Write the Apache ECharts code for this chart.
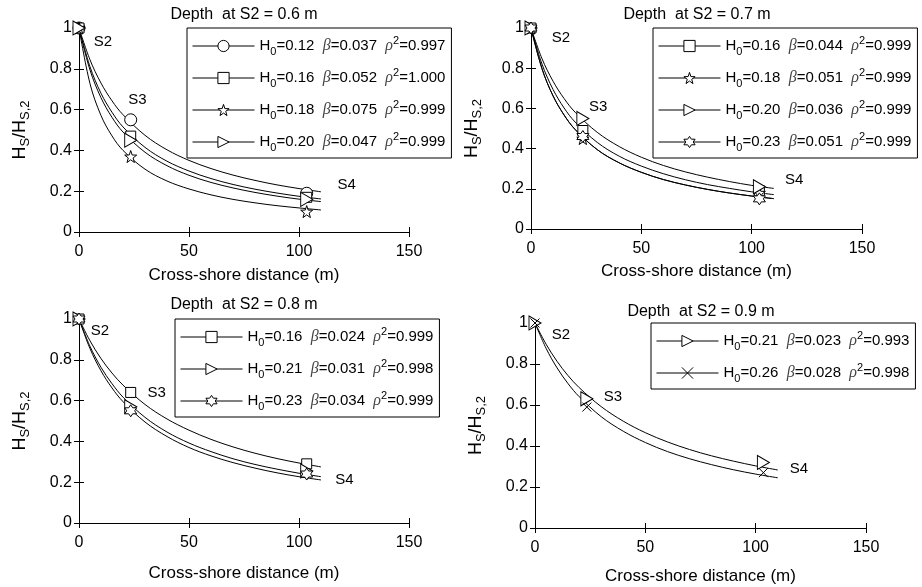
<!DOCTYPE html>
<html>
<head>
<meta charset="utf-8">
<script src="https://cdn.jsdelivr.net/npm/echarts@6/dist/echarts.min.js"></script>
<style>
html, body { margin: 0; padding: 0; background: #fff; }
#chart { width: 922px; height: 587px; }
</style>
</head>
<body>
<div id="chart"></div>
<script>
// ---- data ----
var depthLabels = ['0.6', '0.7', '0.8', '0.9'];
var stationX = [0, 23.5, 103.5];
var stationNames = ['S2', 'S3', 'S4'];
var curveX = [0, 5, 10, 15, 20, 30, 40, 50, 60, 70, 80, 90, 100, 110];

// panel 1 : depth 0.6 m
var p1H0 = ['0.12', '0.16', '0.18', '0.20'];
var p1Beta = ['0.037', '0.052', '0.075', '0.047'];
var p1Rho = ['0.997', '1.000', '0.999', '0.999'];
var p1Symbols = ['circle', 'square', 'star', 'tri'];
var p1Points = [[1, 0.55, 0.19], [1, 0.47, 0.17], [1, 0.37, 0.10], [1, 0.45, 0.16]];
var p1Curves = [
  [1, 0.844, 0.730, 0.643, 0.575, 0.474, 0.403, 0.351, 0.311, 0.279, 0.253, 0.231, 0.213, 0.197],
  [1, 0.794, 0.658, 0.562, 0.490, 0.391, 0.325, 0.278, 0.243, 0.216, 0.194, 0.176, 0.161, 0.149],
  [1, 0.727, 0.571, 0.471, 0.400, 0.308, 0.250, 0.211, 0.182, 0.160, 0.143, 0.129, 0.118, 0.108],
  [1, 0.810, 0.680, 0.587, 0.515, 0.415, 0.347, 0.299, 0.262, 0.233, 0.210, 0.191, 0.175, 0.162]
];
var p1Stations = [[10.9, 0.93], [26.5, 0.65], [121.7, 0.23]];

// panel 2 : depth 0.7 m
var p2H0 = ['0.16', '0.18', '0.20', '0.23'];
var p2Beta = ['0.044', '0.051', '0.036', '0.051'];
var p2Rho = ['0.999', '0.999', '0.999', '0.999'];
var p2Symbols = ['square', 'star', 'tri', 'hex'];
var p2Points = [[1, 0.49, 0.19], [1, 0.45, 0.18], [1, 0.55, 0.21], [1, 0.46, 0.15]];
var p2Curves = [
  [1, 0.820, 0.694, 0.602, 0.532, 0.431, 0.362, 0.313, 0.275, 0.245, 0.221, 0.202, 0.185, 0.171],
  [1, 0.797, 0.662, 0.567, 0.495, 0.395, 0.329, 0.282, 0.246, 0.219, 0.197, 0.179, 0.164, 0.151],
  [1, 0.847, 0.735, 0.649, 0.581, 0.481, 0.410, 0.357, 0.316, 0.284, 0.258, 0.236, 0.217, 0.202],
  [1, 0.797, 0.662, 0.567, 0.495, 0.395, 0.329, 0.282, 0.246, 0.219, 0.197, 0.179, 0.164, 0.151]
];
var p2Stations = [[13.6, 0.95], [30.4, 0.61], [119.3, 0.245]];

// panel 3 : depth 0.8 m
var p3H0 = ['0.16', '0.21', '0.23'];
var p3Beta = ['0.024', '0.031', '0.034'];
var p3Rho = ['0.999', '0.998', '0.999'];
var p3Symbols = ['square', 'tri', 'hex'];
var p3Points = [[1, 0.64, 0.29], [1, 0.57, 0.255], [1, 0.55, 0.24]];
var p3Curves = [
  [1, 0.893, 0.806, 0.735, 0.676, 0.581, 0.510, 0.455, 0.410, 0.373, 0.342, 0.316, 0.294, 0.275],
  [1, 0.866, 0.763, 0.683, 0.617, 0.518, 0.446, 0.392, 0.350, 0.315, 0.287, 0.264, 0.244, 0.227],
  [1, 0.855, 0.746, 0.662, 0.595, 0.495, 0.424, 0.370, 0.329, 0.296, 0.269, 0.246, 0.227, 0.211]
];
var p3Stations = [[9.5, 0.94], [35.3, 0.64], [120.6, 0.21]];

// panel 4 : depth 0.9 m
var p4H0 = ['0.21', '0.26'];
var p4Beta = ['0.023', '0.028'];
var p4Rho = ['0.993', '0.998'];
var p4Symbols = ['tri', 'cross'];
var p4Points = [[1, 0.63, 0.32], [1, 0.59, 0.27]];
var p4Curves = [
  [1, 0.897, 0.813, 0.743, 0.685, 0.592, 0.521, 0.465, 0.420, 0.383, 0.352, 0.326, 0.303, 0.283],
  [1, 0.877, 0.781, 0.704, 0.641, 0.543, 0.472, 0.417, 0.373, 0.338, 0.309, 0.284, 0.263, 0.245]
];
var p4Stations = [[11.8, 0.94], [35.3, 0.64], [119.6, 0.29]];

// ---- layout / styling ----
var FONT = 'Liberation Sans, Arial, sans-serif';
var panels = [
  { h0: p1H0, beta: p1Beta, rho: p1Rho, sym: p1Symbols, pts: p1Points, curves: p1Curves, st: p1Stations,
    grid: { left: 79, top: 28, width: 330, height: 204 }, legend: { left: 187, top: 28 }, title: [244, 7], xGap: 35 },
  { h0: p2H0, beta: p2Beta, rho: p2Rho, sym: p2Symbols, pts: p2Points, curves: p2Curves, st: p2Stations,
    grid: { left: 531, top: 28, width: 331, height: 201 }, legend: { left: 653, top: 28 }, title: [697, 7], xGap: 34 },
  { h0: p3H0, beta: p3Beta, rho: p3Rho, sym: p3Symbols, pts: p3Points, curves: p3Curves, st: p3Stations,
    grid: { left: 79, top: 319, width: 330, height: 204 }, legend: { left: 175, top: 319 }, title: [244, 297], xGap: 42 },
  { h0: p4H0, beta: p4Beta, rho: p4Rho, sym: p4Symbols, pts: p4Points, curves: p4Curves, st: p4Stations,
    grid: { left: 535, top: 323, width: 331, height: 205 }, legend: { left: 651, top: 323 }, title: [701, 304], xGap: 40 }
];

var symbolDefs = {
  circle: { symbol: 'circle', size: 12 },
  square: { symbol: 'rect', size: 10 },
  star: { symbol: 'path://M0,-10 L2.35,-3.24 L9.51,-3.09 L3.8,1.24 L5.88,8.09 L0,4 L-5.88,8.09 L-3.8,1.24 L-9.51,-3.09 L-2.35,-3.24 Z', size: 12 },
  tri: { symbol: 'path://M-5,-6 L6,0 L-5,6 Z', size: [12, 14] },
  hex: { symbol: 'path://M0,-10 L2.89,-5 L8.66,-5 L5.77,0 L8.66,5 L2.89,5 L0,10 L-2.89,5 L-8.66,5 L-5.77,0 L-8.66,-5 L-2.89,-5 Z', size: 12 },
  cross: { symbol: 'path://M-5,-5 L5,5 M5,-5 L-5,5', size: 9 }
};

var legendRich = {
  t: { fontFamily: FONT, fontSize: 15, color: '#000', lineHeight: 22 },
  sub: { fontFamily: FONT, fontSize: 11, color: '#000', lineHeight: 8, verticalAlign: 'bottom' },
  sup: { fontFamily: FONT, fontSize: 11, color: '#000', lineHeight: 8, verticalAlign: 'top' },
  g: { fontFamily: 'Liberation Serif, serif', fontStyle: 'italic', fontSize: 16, color: '#444', lineHeight: 22 }
};

var grids = [], xAxes = [], yAxes = [], series = [], legends = [], titles = [];

panels.forEach(function (p, i) {
  grids.push(p.grid);
  titles.push({
    text: 'Depth  at S2 = ' + depthLabels[i] + ' m',
    left: p.title[0], top: p.title[1], textAlign: 'center', padding: 0,
    textStyle: { fontFamily: FONT, fontSize: 16, fontWeight: 'normal', color: '#000' }
  });
  var tickCommon = { show: true, inside: true, length: 5, lineStyle: { color: '#000' } };
  xAxes.push({
    gridIndex: i, type: 'value', min: 0, max: 150, interval: 50, position: 'bottom',
    name: 'Cross-shore distance (m)', nameLocation: 'middle', nameGap: p.xGap,
    nameTextStyle: { fontFamily: FONT, fontSize: 17, color: '#000' },
    axisLine: { lineStyle: { color: '#000' } }, axisTick: tickCommon,
    axisLabel: { fontFamily: FONT, fontSize: 16, color: '#000', margin: 12 },
    splitLine: { show: false }
  });
  xAxes.push({
    gridIndex: i, type: 'value', min: 0, max: 150, interval: 50, position: 'top',
    axisLine: { lineStyle: { color: '#000' } }, axisTick: tickCommon,
    axisLabel: { show: false }, splitLine: { show: false }
  });
  yAxes.push({
    gridIndex: i, type: 'value', min: 0, max: 1, interval: 0.2, position: 'left',
    name: 'H{s|S}/H{s|S,2}', nameLocation: 'middle', nameGap: 47,
    nameTextStyle: {
      fontFamily: FONT, fontSize: 18, color: '#000', lineHeight: 24,
      rich: { s: { fontFamily: FONT, fontSize: 13, color: '#000', lineHeight: 8, verticalAlign: 'bottom' } }
    },
    axisLine: { lineStyle: { color: '#000' } }, axisTick: tickCommon,
    axisLabel: {
      fontFamily: FONT, fontSize: 16, color: '#000', margin: 7,
      formatter: function (v) { return (v === 0 || v === 1) ? String(v) : v.toFixed(1); }
    },
    splitLine: { show: false }
  });
  yAxes.push({
    gridIndex: i, type: 'value', min: 0, max: 1, interval: 0.2, position: 'right',
    axisLine: { lineStyle: { color: '#000' } }, axisTick: tickCommon,
    axisLabel: { show: false }, splitLine: { show: false }
  });

  var names = [];
  p.curves.forEach(function (vals) {
    series.push({
      type: 'line', xAxisIndex: i * 2, yAxisIndex: i * 2, silent: true,
      data: curveX.map(function (x, j) { return [x, vals[j]]; }),
      showSymbol: false, smooth: 0.35,
      lineStyle: { color: '#000', width: 1 }, z: 2
    });
  });
  p.pts.forEach(function (vals, k) {
    var name = p.h0[k] + '|' + p.beta[k] + '|' + p.rho[k];
    names.push(name);
    var sd = symbolDefs[p.sym[k]];
    series.push({
      name: name, type: 'line', xAxisIndex: i * 2, yAxisIndex: i * 2, silent: true,
      data: stationX.map(function (x, j) { return [x, vals[j]]; }),
      symbol: sd.symbol, symbolSize: sd.size, showAllSymbol: true,
      itemStyle: { color: '#fff', borderColor: '#000', borderWidth: 1 },
      lineStyle: { width: 0, opacity: 0 }, z: 3
    });
  });
  // station names S2 / S3 / S4
  series.push({
    type: 'scatter', xAxisIndex: i * 2, yAxisIndex: i * 2, silent: true,
    data: p.st.map(function (s, j) { return { value: s, label: { formatter: stationNames[j] } }; }),
    symbolSize: 0, itemStyle: { opacity: 1 },
    label: { show: true, position: 'inside', fontFamily: FONT, fontSize: 15, color: '#000', opacity: 1 }
  });

  legends.push({
    data: names, orient: 'vertical', left: p.legend.left, top: p.legend.top,
    padding: [7, 6, 5, 5], itemWidth: 62, itemHeight: 14, itemGap: 10,
    borderColor: '#000', borderWidth: 1, borderRadius: 0, backgroundColor: '#fff',
    selectedMode: false, z: 10,
    itemStyle: { color: '#fff', borderColor: '#000', borderWidth: 1 },
    lineStyle: { color: '#000', width: 1, opacity: 1, type: 'solid' },
    formatter: function (n) {
      var a = n.split('|');
      return '{t|H}{sub|0}{t|=' + a[0] + '  }{g|β}{t|=' + a[1] + '  }{g|ρ}{sup|2}{t|=' + a[2] + '}';
    },
    textStyle: { rich: legendRich }
  });
});

var myChart = echarts.init(document.getElementById('chart'));
myChart.setOption({
  animation: false,
  backgroundColor: '#fff',
  title: titles,
  grid: grids,
  xAxis: xAxes,
  yAxis: yAxes,
  legend: legends,
  series: series
});
</script>
</body>
</html>
